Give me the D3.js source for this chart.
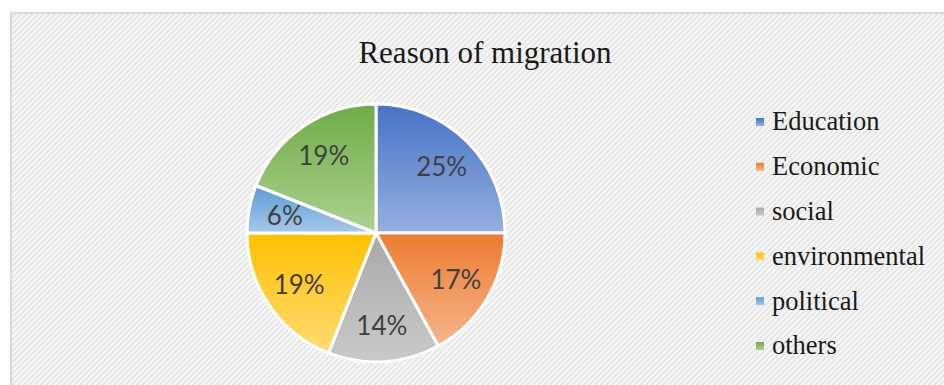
<!DOCTYPE html>
<html>
<head>
<meta charset="utf-8">
<script src="https://cdn.jsdelivr.net/npm/d3@7"></script>
<style>
  html, body { margin: 0; padding: 0; background: #ffffff; }
  svg { display: block; }
</style>
</head>
<body>
<div id="chart"></div>
<script>
// ---- data ----
const title = "Reason of migration";
const categories = ["Education", "Economic", "social", "environmental", "political", "others"];
const values = [25, 17, 14, 19, 6, 19];
const topColors = ["#4672c6", "#ed7b30", "#a8a8a8", "#ffc000", "#5a9ad5", "#6fac46"];
const bottomColors = ["#96b0e0", "#f5b68c", "#cacaca", "#ffdc73", "#a6c9ea", "#acd291"];

// ---- layout ----
const W = 944, H = 385;
const svg = d3.select("#chart").append("svg").attr("width", W).attr("height", H);
const defs = svg.append("defs");

const pat = defs.append("pattern")
  .attr("id", "hatch").attr("patternUnits", "userSpaceOnUse")
  .attr("width", 4).attr("height", 4)
  .attr("patternTransform", "rotate(45)");
pat.append("rect").attr("width", 4).attr("height", 4).attr("fill", "#f8f8f8");
pat.append("rect").attr("width", 1.6).attr("height", 4).attr("fill", "#e2e2e2");

// chart frame
svg.append("rect")
  .attr("x", 11).attr("y", 13).attr("width", 960).attr("height", 400)
  .attr("fill", "url(#hatch)").attr("stroke", "#d9d9d9").attr("stroke-width", 2);

// title
svg.append("text")
  .attr("x", 485).attr("y", 63)
  .attr("text-anchor", "middle")
  .attr("font-family", "'Liberation Serif', 'Times New Roman', serif")
  .attr("font-size", 31)
  .attr("fill", "#1a1a1a")
  .text(title);

// gradients
categories.forEach((c, i) => {
  const g = defs.append("linearGradient")
    .attr("id", "grad" + i)
    .attr("x1", 0).attr("y1", 0).attr("x2", 0).attr("y2", 1);
  g.append("stop").attr("offset", "0%").attr("stop-color", topColors[i]);
  g.append("stop").attr("offset", "100%").attr("stop-color", bottomColors[i]);
});

// pie
const cx = 376, cy = 233, R = 129;
const pie = d3.pie().sort(null).value(d => d);
const arcs = pie(values);
const arc = d3.arc().innerRadius(0).outerRadius(R);
const labelArc = d3.arc().innerRadius(R * 0.72).outerRadius(R * 0.72);

const gPie = svg.append("g").attr("transform", `translate(${cx},${cy})`);
gPie.selectAll("path.slice")
  .data(arcs).enter().append("path")
  .attr("class", "slice")
  .attr("d", arc)
  .attr("fill", (d, i) => `url(#grad${i})`)
  .attr("stroke", "#ffffff").attr("stroke-width", 3).attr("stroke-linejoin", "round");

gPie.selectAll("text.lbl")
  .data(arcs).enter().append("text")
  .attr("class", "lbl")
  .attr("transform", d => `translate(${labelArc.centroid(d)})`)
  .attr("text-anchor", "middle")
  .attr("dy", "0.35em")
  .attr("font-family", "Lato, 'Open Sans', sans-serif")
  .attr("font-size", 26)
  .attr("fill", "#404040")
  .text(d => d.data + "%");

// legend
const legendY = d3.scalePoint().domain(categories).range([122, 346]);
const gLeg = svg.append("g");
const rows = gLeg.selectAll("g.row").data(categories).enter().append("g")
  .attr("class", "row")
  .attr("transform", d => `translate(756,${legendY(d)})`);
rows.append("rect")
  .attr("x", 0).attr("y", -4).attr("width", 8).attr("height", 8)
  .attr("fill", (d, i) => `url(#grad${i})`);
rows.append("text")
  .attr("x", 16).attr("dy", "0.32em")
  .attr("font-family", "'Liberation Serif', 'Times New Roman', serif")
  .attr("font-size", 26.5)
  .attr("fill", "#1a1a1a")
  .text(d => d);
</script>
</body>
</html>
